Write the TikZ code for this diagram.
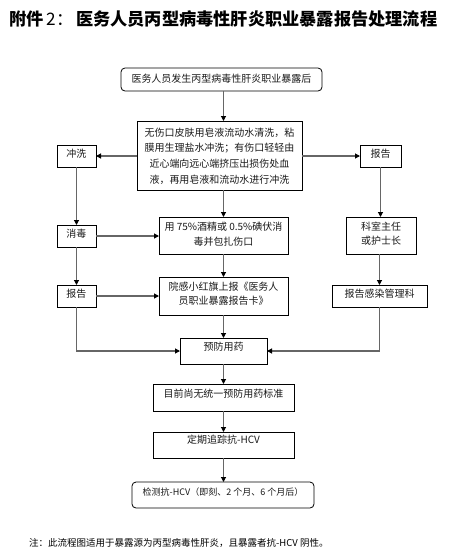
\documentclass[tikz,border=0pt]{standalone}
\usepackage{fontspec}
\newfontfamily\cjk{Noto Sans CJK SC}
\usetikzlibrary{arrows.meta}
\begin{document}
\begin{tikzpicture}[x=1pt,y=-1pt,
  box/.style={draw=black, line width=0.8pt, inner sep=0pt, outer sep=0pt},
  rbox/.style={box, rounded corners=4pt},
  txt/.style={inner sep=0pt, anchor=north, align=center, text=black!90, font=\cjk\fontsize{10}{15}\selectfont},
  arr/.style={draw=black!60, line width=1.1pt, -{Triangle[length=5pt,width=5pt,color=black]}}]
\useasboundingbox (0,0) rectangle (459,558);
% title
\node[anchor=west, inner sep=0pt, font=\cjk\bfseries\fontsize{17.2}{17.2}\selectfont] (title) at (9,19) {附件\,{\mdseries 2：}\,医务人员丙型病毒性肝炎职业暴露报告处理流程};
% boxes
\node[rbox, minimum width=201pt, minimum height=23pt] (b1) at (221.5,79.5) {};
\node[box, minimum width=165pt, minimum height=69pt] (b2) at (219.5,155.5) {};
\node[box, minimum width=39pt, minimum height=22pt] (cx) at (76.5,156) {};
\node[box, minimum width=41pt, minimum height=22pt] (rr) at (380.5,156) {};
\node[box, minimum width=39pt, minimum height=22pt] (xd) at (76.5,236) {};
\node[box, minimum width=39pt, minimum height=22pt] (bl) at (76.5,296) {};
\node[box, minimum width=129pt, minimum height=37pt] (b3) at (223.5,235.5) {};
\node[box, minimum width=129pt, minimum height=38pt] (b4) at (223.5,296) {};
\node[box, minimum width=70pt, minimum height=37pt] (ks) at (381,235.5) {};
\node[box, minimum width=95pt, minimum height=22pt] (gk) at (379.5,296) {};
\node[box, minimum width=87pt, minimum height=26pt] (yf) at (223.5,351) {};
\node[box, minimum width=141pt, minimum height=27pt] (mq) at (223.5,397.5) {};
\node[box, minimum width=141pt, minimum height=26pt] (dq) at (223.5,445) {};
\node[rbox, minimum width=182pt, minimum height=26pt] (jc) at (223,495) {};
% texts
\node[txt] (t1) at ([yshift=-5.6pt]b1.north) {医务人员发生丙型病毒性肝炎职业暴露后};
\node[txt, font=\cjk\fontsize{10}{15.6}\selectfont] (t2) at ([yshift=-6.6pt]b2.north) {无伤口皮肤用皂液流动水清洗，粘\\膜用生理盐水冲洗；有伤口轻轻由\\近心端向远心端挤压出损伤处血\\液，再用皂液和流动水进行冲洗};
\node[txt] (tcx) at ([yshift=-3.6pt]cx.north) {冲洗};
\node[txt] (trr) at ([yshift=-3.6pt]rr.north) {报告};
\node[txt] (txd) at ([yshift=-3.6pt]xd.north) {消毒};
\node[txt] (tbl) at ([yshift=-3.9pt]bl.north) {报告};
\node[txt] (t3) at ([yshift=-4.6pt]b3.north) {用 75\%酒精或 0.5\%碘伏消\\毒并包扎伤口};
\node[txt, font=\cjk\fontsize{10}{14}\selectfont] (t4) at ([yshift=-4.6pt]b4.north) {院感小红旗上报《医务人\\员职业暴露报告卡》};
\node[txt, font=\cjk\fontsize{10}{14}\selectfont] (tks) at ([yshift=-4.6pt]ks.north) {科室主任\\或护士长};
\node[txt] (tgk) at ([yshift=-3.6pt]gk.north) {报告感染管理科};
\node[txt] (tyf) at ([yshift=-3.6pt]yf.north) {预防用药};
\node[txt] (tmq) at ([yshift=-4.6pt]mq.north) {目前尚无统一预防用药标准};
\node[txt] (tdq) at ([yshift=-2.6pt]dq.north) {定期追踪抗-HCV};
\node[txt, font=\cjk\fontsize{9}{9}\selectfont] (tjc) at ([yshift=-6pt]jc.north) {检测抗-HCV（即刻、2 个月、6 个月后）};
% note
\node[anchor=west, inner sep=0pt, font=\cjk\fontsize{9.5}{9.5}\selectfont] (note) at (29,543) {注：此流程图适用于暴露源为丙型病毒性肝炎，且暴露者抗-HCV 阴性。};
% connectors
\draw[arr] (b1.south -| b3.north) -- (b2.north -| b3.north);
\draw[arr] (b2.west |- cx.east) -- (cx.east);
\draw[arr] (b2.east |- rr.west) -- (rr.west);
\draw[arr] (b2.south -| b3.north) -- (b3.north);
\draw[arr] (b3.south) -- (b4.north);
\draw[arr] (b4.south) -- (yf.north);
\draw[arr] (yf.south) -- (mq.north);
\draw[arr] (mq.south) -- (dq.north);
\draw[arr] (dq.south) -- (jc.north -| dq.south);
\draw[arr] (cx.south) -- (xd.north);
\draw[arr] (xd.south) -- (bl.north);
\draw[arr] (xd.east) -- (b3.west |- xd.east);
\draw[arr] (bl.east) -- (b4.west |- bl.east);
\draw[arr] (bl.south) |- (yf.west);
\draw[arr] (rr.south) -- (ks.north -| rr.south);
\draw[arr] (ks.south -| gk.north) -- (gk.north);
\draw[arr] (gk.south) |- (yf.east);
\end{tikzpicture}
\end{document}
